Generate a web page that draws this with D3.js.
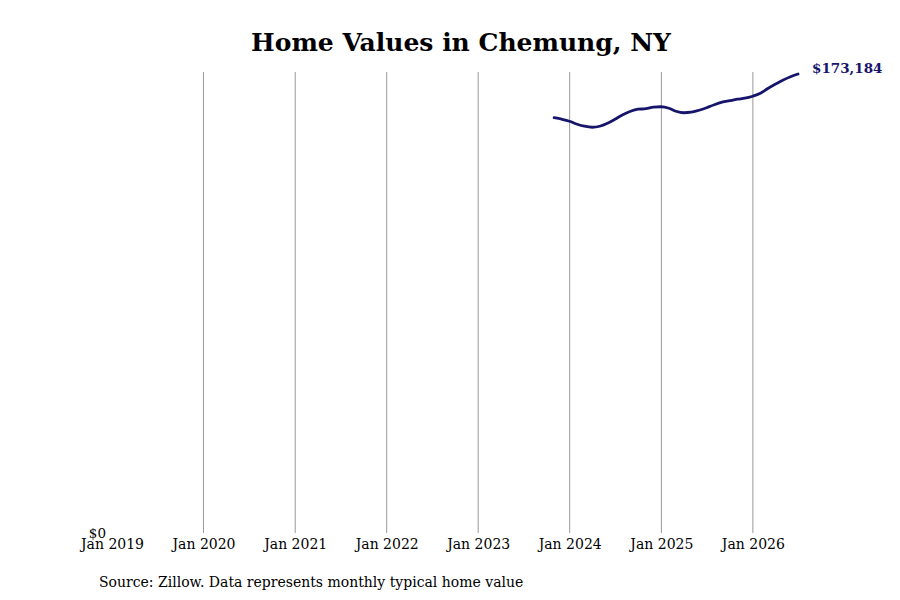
<!DOCTYPE html>
<html><head><meta charset="utf-8">
<script src="https://cdn.jsdelivr.net/npm/d3@7"></script>
<style>body{margin:0;background:#fff}svg{display:block}text{font-family:"DejaVu Serif",serif}</style>
</head><body><svg id="c" width="900" height="600"></svg>
<script>
const startMonth = "2023-10";
const values = [156683,156117,155362,154229,153474,153097,153474,154607,156117,157816,159137,159892,160081,160647,160836,160270,159137,158571,158760,159515,160459,161591,162535,163102,163668,164045,164801,165933,167632,169331,170841,172163,173184];
const tickYears = [2019,2020,2021,2022,2023,2024,2025,2026];
const title = "Home Values in Chemung, NY";
const source = "Source: Zillow. Data represents monthly typical home value";

const [sy, sm] = startMonth.split("-").map(Number);
const data = values.map((v,i)=>({date:new Date(sy, sm - 1 + i + 1, 0), value:v}));

const svg = d3.select("#c");
const x = d3.scaleTime().domain([new Date(2019,0,1), data[data.length-1].date]).range([112, 798]);
const y = d3.scaleLinear().domain([0, d3.max(values)]).range([533, 74]);

svg.append("text").attr("x",461).attr("y",51).attr("text-anchor","middle")
  .attr("font-size",25).attr("font-weight","bold").text(title);

const ticks = tickYears.map(yr=>new Date(yr,0,1));
svg.append("g").selectAll("line").data(ticks.slice(1)).join("line")
  .attr("x1",d=>x(d)).attr("x2",d=>x(d)).attr("y1",72).attr("y2",533)
  .attr("stroke","#999").attr("stroke-width",1);

const xa = svg.append("g").attr("transform","translate(0,533)")
  .call(d3.axisBottom(x).tickValues(ticks).tickFormat(d3.timeFormat("%b %Y")).tickSize(0).tickPadding(6));
xa.select(".domain").remove();
xa.selectAll("text").attr("font-size",14).attr("font-family","DejaVu Serif").attr("fill","#000");

const ya = svg.append("g").attr("transform","translate(112,0)")
  .call(d3.axisLeft(y).tickValues([0]).tickFormat(d=>"$"+d3.format(",")(d)).tickSize(0).tickPadding(6));
ya.select(".domain").remove();
ya.selectAll("text").attr("font-size",13.5).attr("font-family","DejaVu Serif").attr("fill","#000");

svg.append("path").datum(data)
  .attr("fill","none").attr("stroke","#17156b").attr("stroke-width",2.8)
  .attr("stroke-linejoin","round").attr("stroke-linecap","round")
  .attr("d", d3.line().x(d=>x(d.date)).y(d=>y(d.value)).curve(d3.curveMonotoneX));

const last = data[data.length-1];
svg.append("text").attr("x", x(last.date)+14).attr("y", y(last.value)-1)
  .attr("font-size",13.5).attr("font-weight","bold").attr("fill","#17156b")
  .text("$"+d3.format(",")(last.value));

svg.append("text").attr("x",99).attr("y",587).attr("font-size",14).text(source);
</script></body></html>
